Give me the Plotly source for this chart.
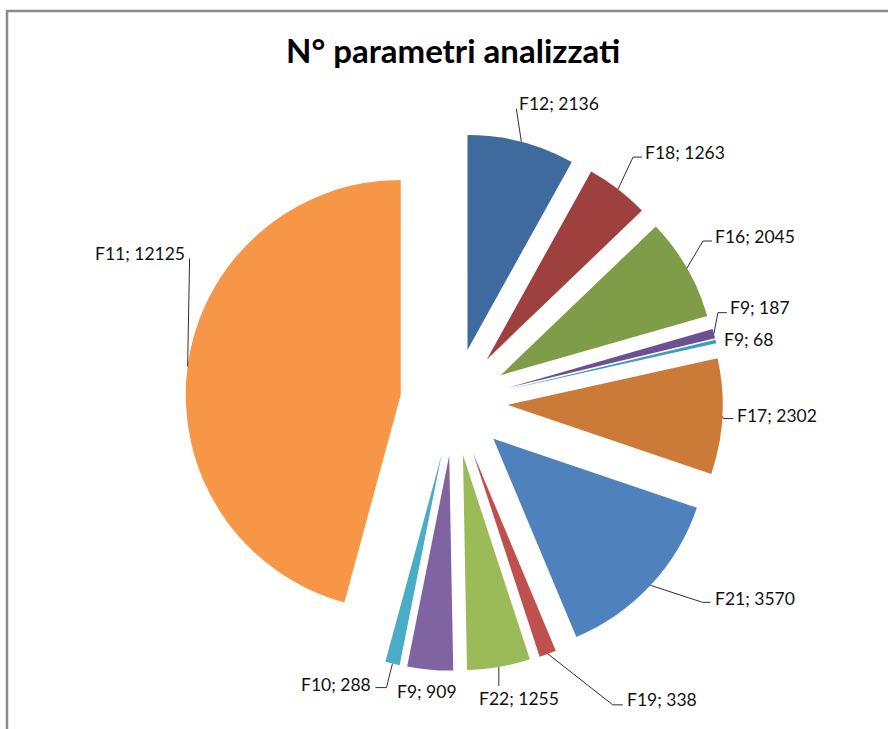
import math
import plotly.graph_objects as go

# ---- data ----
names = ["F12", "F18", "F16", "F9", "F9", "F17", "F21", "F19", "F22", "F9", "F10", "F11"]
values = [2136, 1263, 2045, 187, 68, 2302, 3570, 338, 1255, 909, 288, 12125]
colors = ["#3E6A9E", "#9E413E", "#7F9C48", "#6B5193", "#3D9DB6", "#CC7A37",
          "#4F81BD", "#C0504D", "#9BBB59", "#8064A2", "#4BACC6", "#F79646"]

# ---- layout / style constants (pixels) ----
W, H = 888, 729
CX, CY = 454, 402          # pie centre
R = 215                    # pie radius
PULL = 0.25                # explode fraction

# label layout relative to each slice's outer edge point: (elbow, end, text, anchor)
label_layout = [
    ((-5, -33), (-5, -33), (-4, -38), "left"),
    ((15, -32), (24, -32), (25, -37), "left"),
    ((16, -27), (25, -27), (26, -32), "left"),
    ((4, -21), (13, -21), (14, -26), "left"),
    (None, None, (6, -2), "left"),
    ((1, 2), (11, 2), (13, -1), "left"),
    ((52, 17), (60, 17), (62, 13), "left"),
    ((65, 51), (75, 51), (77, 46), "left"),
    ((0, 19), (0, 19), (-22, 32), "left"),
    (None, None, (-3, 22), "center"),
    ((-6, 24), (-17, 24), (-19, 21), "right"),
    ((2, -108), (2, -108), (-1, -113), "right"),
]


def px(x):
    return x / W


def py(y):
    return 1 - y / H


half = R * (1 + PULL)
fig = go.Figure(go.Pie(
    labels=[f"{n} ({i})" for i, n in enumerate(names)],
    values=values,
    sort=False,
    direction="clockwise",
    rotation=0,
    pull=PULL,
    textinfo="none",
    hoverinfo="text",
    hovertext=[f"{n}; {v}" for n, v in zip(names, values)],
    marker=dict(colors=colors, line=dict(width=0)),
    domain=dict(x=[px(CX - half), px(CX + half)], y=[py(CY + half), py(CY - half)]),
    showlegend=False,
))

shapes = []
annotations = []
total = sum(values)
cum = 0
for n, v, lay in zip(names, values, label_layout):
    mid = (cum + v / 2) / total * 2 * math.pi
    cum += v
    ex = CX + half * math.sin(mid)
    ey = CY - half * math.cos(mid)
    elbow, end, txt, anchor = lay
    if elbow is not None:
        path = (f"M {px(ex)},{py(ey)} L {px(ex + elbow[0])},{py(ey + elbow[1])} "
                f"L {px(ex + end[0])},{py(ey + end[1])}")
        shapes.append(dict(type="path", xref="paper", yref="paper", path=path,
                           line=dict(color="#303030", width=1)))
    annotations.append(dict(
        x=px(ex + txt[0]), y=py(ey + txt[1]), xref="paper", yref="paper",
        text=f"{n}; {v}", showarrow=False, xanchor=anchor, yanchor="middle",
        font=dict(family="Lato", size=17.5, color="#111111"),
    ))

# title
annotations.append(dict(
    x=px(453), y=py(50), xref="paper", yref="paper",
    text="<b>N° parametri analizzati</b>", showarrow=False,
    xanchor="center", yanchor="middle",
    font=dict(family="Lato", size=33, color="#000000"),
))

# frame (left and top edges visible)
shapes.append(dict(type="path", xref="paper", yref="paper",
                   path=f"M {px(7)},{py(H + 5)} L {px(7)},{py(11)} L {px(W + 5)},{py(11)}",
                   line=dict(color="#8C8C8C", width=2.5)))

fig.update_layout(
    width=W, height=H,
    margin=dict(l=0, r=0, t=0, b=0),
    paper_bgcolor="white", plot_bgcolor="white",
    shapes=shapes, annotations=annotations,
)

fig.write_html("out.html", config={"displayModeBar": False},
               post_script="document.body.style.margin='0';")
